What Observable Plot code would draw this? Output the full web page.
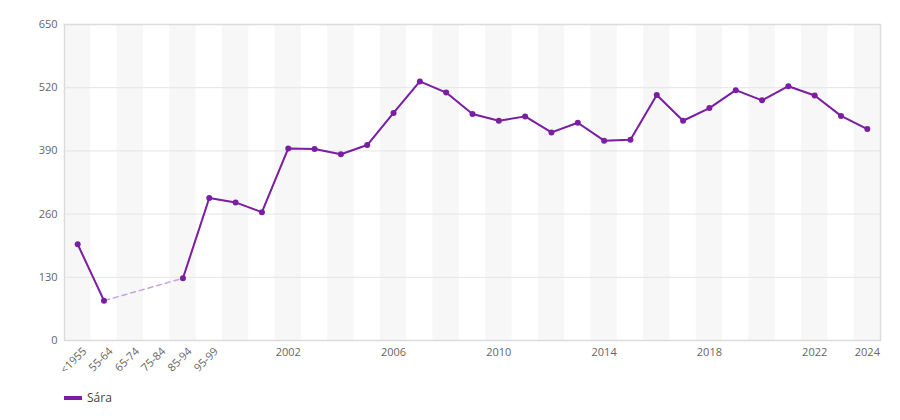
<!DOCTYPE html>
<html>
<head>
<meta charset="utf-8">
<script src="https://cdn.jsdelivr.net/npm/d3@7"></script>
<script src="https://cdn.jsdelivr.net/npm/@observablehq/plot@0.6"></script>
<style>
  body { margin: 0; background: #fff; font-family: "Open Sans", sans-serif; }
  #legend { margin-left: 64px; margin-top: 9px; font-size: 12px; color: #444; display: flex; align-items: center; }
  #legend .sw { display: inline-block; width: 18px; height: 4px; background: #7b1fa2; margin-right: 5px; }
</style>
</head>
<body>
<div id="chart"></div>
<div id="legend"><span class="sw"></span><span>Sára</span></div>
<script>
const categories = ["<1955","55-64","65-74","75-84","85-94","95-99",
  "2000","2001","2002","2003","2004","2005","2006","2007","2008","2009",
  "2010","2011","2012","2013","2014","2015","2016","2017","2018","2019",
  "2020","2021","2022","2023","2024"];
const values = [198, 82, null, null, 128, 293,
  284, 264, 395, 394, 383, 402, 468, 533, 510, 466,
  452, 461, 428, 448, 411, 413, 505, 452, 478, 515,
  494, 523, 504, 462, 435];
const rotatedTicks = ["<1955","55-64","65-74","75-84","85-94","95-99"];
const yearTicks = ["2002","2006","2010","2014","2018","2022","2024"];
const yTicks = [0, 130, 260, 390, 520, 650];
const seriesName = "Sára";

const rows = categories.map((c, i) => ({cat: c, v: values[i], i}));
const bandRows = rows.filter(d => d.i % 2 === 0);
const defined = rows.filter(d => d.v != null);

const chart = Plot.plot({
  width: 900, height: 380,
  marginLeft: 64, marginRight: 20, marginTop: 24, marginBottom: 40,
  style: {fontFamily: "Open Sans", fontSize: "11px", color: "#666", background: "#fff"},
  x: {type: "band", domain: categories, padding: 0, round: false, axis: null},
  y: {domain: [0, 650], axis: null},
  marks: [
    Plot.barY(bandRows, {x: "cat", y1: 0, y2: 650, fill: "#f7f7f7"}),
    Plot.gridY(yTicks.slice(1, -1), {stroke: "#e4e4e4", strokeOpacity: 1}),
    Plot.frame({stroke: "#dcdcdc", strokeWidth: 1.5}),
    Plot.axisY(yTicks, {tickSize: 0, tickPadding: 7, label: null, fill: "#666"}),
    Plot.axisX(rotatedTicks, {tickSize: 0, tickPadding: 6, rotate: -45, textAnchor: "end", label: null, fill: "#666", dx: 4}),
    Plot.axisX(yearTicks, {tickSize: 0, tickPadding: 8, label: null, fill: "#666"}),
    Plot.line(defined, {x: "cat", y: "v", stroke: "#c9a2de", strokeWidth: 1.5, strokeDasharray: "5,4"}),
    Plot.line(rows, {x: "cat", y: "v", stroke: "#7b1fa2", strokeWidth: 2, defined: d => d.v != null}),
    Plot.dot(defined, {x: "cat", y: "v", fill: "#7b1fa2", r: 3})
  ]
});
document.getElementById("chart").appendChild(chart);
</script>
</body>
</html>
